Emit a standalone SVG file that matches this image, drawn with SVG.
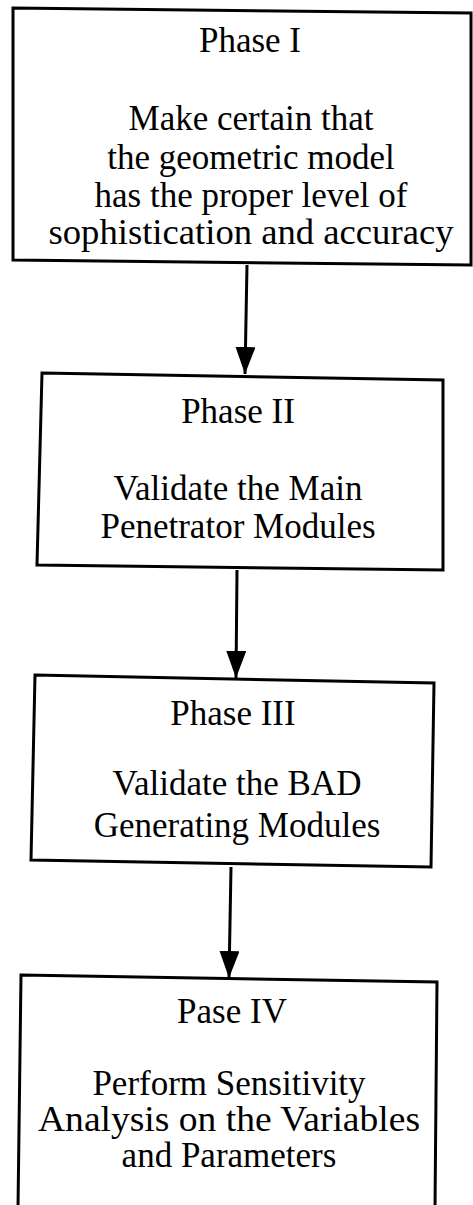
<svg xmlns="http://www.w3.org/2000/svg" width="473" height="1205" viewBox="0 0 473 1205">
<style>
.box{fill:#fff;stroke:#000;stroke-width:3}
.t{font-family:"Liberation Serif","Times New Roman",serif;font-size:35px;fill:#000;text-anchor:middle}
.c{stroke:#000;stroke-width:3;fill:none}
</style>
<defs>
<marker id="ah" markerUnits="userSpaceOnUse" markerWidth="27" markerHeight="20" refX="27" refY="10" orient="auto">
<path d="M0,0 L27,10 L0,20 Z" fill="#000"/>
</marker>
</defs>
<rect width="473" height="1205" fill="#fff"/>
<g id="connectors">
<line class="c" x1="247" y1="265" x2="245" y2="374" marker-end="url(#ah)"/>
<line class="c" x1="237" y1="570" x2="236" y2="678" marker-end="url(#ah)"/>
<line class="c" x1="231" y1="867" x2="229" y2="978" marker-end="url(#ah)"/>
</g>
<g id="phase1">
<polygon class="box" points="13,8 471,13 471,265 13,260"/>
<text class="t" x="250" y="52">Phase I</text>
<text class="t" x="251" y="130">Make certain that</text>
<text class="t" x="251" y="169">the geometric model</text>
<text class="t" x="251" y="207">has the proper level of</text>
<text class="t" x="251" y="244" textLength="405" lengthAdjust="spacingAndGlyphs">sophistication and accuracy</text>
</g>
<g id="phase2">
<polygon class="box" points="42,373 443,380 443,570 37,565"/>
<text class="t" x="238" y="423">Phase II</text>
<text class="t" x="238" y="500">Validate the Main</text>
<text class="t" x="238" y="538">Penetrator Modules</text>
</g>
<g id="phase3">
<polygon class="box" points="35,675 434,683 431,867 31,860"/>
<text class="t" x="233" y="725">Phase III</text>
<text class="t" x="237" y="795">Validate the BAD</text>
<text class="t" x="237" y="837">Generating Modules</text>
</g>
<g id="phase4">
<polygon class="box" points="21,975 437,982 435,1208 18,1208"/>
<text class="t" x="232" y="1023">Pase IV</text>
<text class="t" x="229" y="1095">Perform Sensitivity</text>
<text class="t" x="229" y="1131" textLength="382" lengthAdjust="spacingAndGlyphs">Analysis on the Variables</text>
<text class="t" x="229" y="1167">and Parameters</text>
</g>
</svg>
